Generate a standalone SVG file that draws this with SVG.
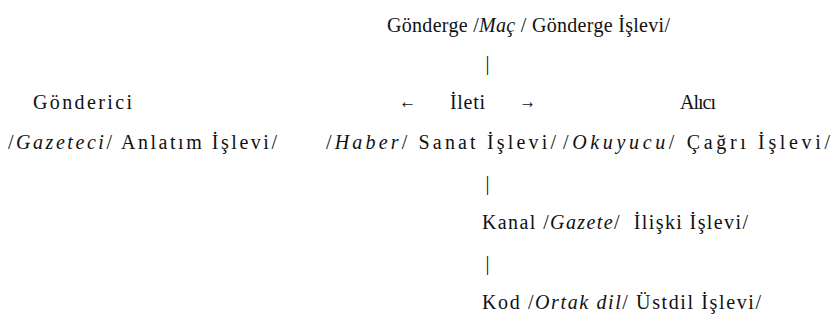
<svg xmlns="http://www.w3.org/2000/svg" width="838" height="320" viewBox="0 0 838 320">
<style>
.i{font-style:italic}
</style>
<rect width="838" height="320" fill="#fff"/>
<g font-family="Liberation Serif" font-size="20" fill="#111">
<g id="gonderge"><text x="387" y="32" textLength="283" lengthAdjust="spacing">Gönderge /<tspan class="i">Maç</tspan> / Gönderge İşlevi/</text></g>
<g id="gonderici"><text x="33" y="109" textLength="99" lengthAdjust="spacing">Gönderici</text><text x="8" y="149" textLength="269" lengthAdjust="spacing">/<tspan class="i">Gazeteci</tspan>/ Anlatım İşlevi/</text></g>
<g id="ileti"><text x="450" y="109" textLength="35" lengthAdjust="spacing">İleti</text><text x="326" y="149" textLength="230" lengthAdjust="spacing">/<tspan class="i">Haber</tspan>/ Sanat İşlevi/</text></g>
<g id="alici"><text x="680" y="109" textLength="36" lengthAdjust="spacing">Alıcı</text><text x="563" y="149" textLength="267" lengthAdjust="spacing">/<tspan class="i">Okuyucu</tspan>/ Çağrı İşlevi/</text></g>
<g id="kanal"><text x="482" y="229" textLength="266" lengthAdjust="spacing" xml:space="preserve">Kanal /<tspan class="i">Gazete</tspan>/  İlişki İşlevi/</text></g>
<g id="kod"><text x="482" y="309" textLength="279" lengthAdjust="spacing">Kod /<tspan class="i">Ortak dil</tspan>/ Üstdil İşlevi/</text></g>
<g id="connectors"><text x="399" y="108" textLength="17" lengthAdjust="spacingAndGlyphs">←</text><text x="519" y="108" textLength="17" lengthAdjust="spacingAndGlyphs">→</text><text x="485.5" y="70">|</text><text x="485.5" y="190">|</text><text x="485.5" y="270">|</text></g>
</g>
</svg>
